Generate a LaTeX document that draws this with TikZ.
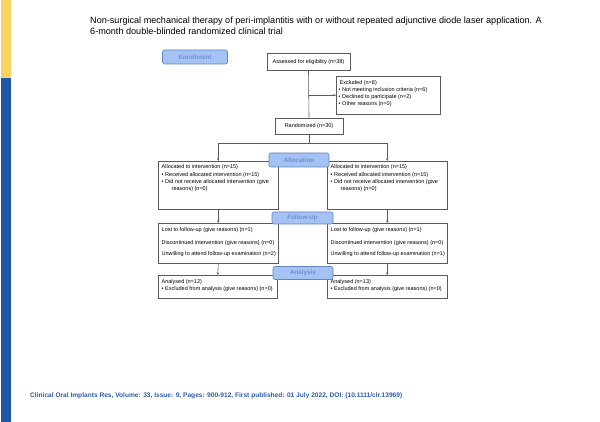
\documentclass[tikz,border=0pt]{standalone}
\usepackage{fontspec}
\setmainfont{Liberation Sans}
\usetikzlibrary{arrows.meta}
\definecolor{baryellow}{HTML}{F8D35E}
\definecolor{barblue}{HTML}{1F55A5}
\definecolor{foottext}{HTML}{2F5DAA}
\definecolor{lblfill}{HTML}{A4C2F4}
\definecolor{lbldraw}{HTML}{6683BD}
\definecolor{lbltext}{HTML}{6F8FD2}
\definecolor{boxdraw}{HTML}{5A5A5A}
\begin{document}
\begin{tikzpicture}[x=1pt,y=-1pt,
  lbl/.style={draw=lbldraw,fill=lblfill,rounded corners=2pt,line width=0.6pt,text=lbltext,
    font=\bfseries\fontsize{6.3}{7}\selectfont,inner sep=0pt},
  boxn/.style={draw=boxdraw,fill=white,line width=0.5pt,inner sep=0pt},
  txt/.style={anchor=base west,inner sep=0pt,font=\fontsize{5.5}{6.6}\selectfont},
  conn/.style={draw=boxdraw,line width=0.6pt},
  arr/.style={conn,-{Stealth[length=2.6pt,width=2.4pt]}}]
\useasboundingbox (0,0) rectangle (600,422);
\fill[white] (0,0) rectangle (600,422);
% side bar
\fill[baryellow] (1,0) rectangle (10.7,78);
\fill[barblue] (1,78) rectangle (10.7,422);
% title
\node[anchor=base west,inner sep=0pt,font=\fontsize{9.1}{11}\selectfont] (title1) at (90,23.5) {Non-surgical mechanical therapy of peri-implantitis with or without repeated adjunctive diode laser application. A};
\node[anchor=base west,inner sep=0pt,font=\fontsize{9.1}{11}\selectfont] (title2) at (90,34.5) {6-month double-blinded randomized clinical trial};
% footer
\node[anchor=base west,inner sep=0pt,text=foottext,font=\bfseries\fontsize{6.6}{7.5}\selectfont] (foot) at (30,397) {Clinical Oral Implants Res, Volume: 33, Issue: 9, Pages: 900-912, First published: 01 July 2022, DOI: (10.1111/clr.13969)};

% boxes
\node[boxn,minimum width=83pt,minimum height=17pt] (assess) at (308.5,62) {\fontsize{5.5}{6.6}\selectfont Assessed for eligibility (n=38)};
\node[boxn,minimum width=104pt,minimum height=38pt,anchor=north west] (excl) at (336,76) {};
\node[boxn,minimum width=68pt,minimum height=16pt] (rand) at (309,126) {\fontsize{5.5}{6.6}\selectfont Randomized (n=30)};
\node[boxn,minimum width=120pt,minimum height=48pt,anchor=north west] (allocL) at (158,161) {};
\node[boxn,minimum width=120pt,minimum height=48pt,anchor=north west] (allocR) at (327,161) {};
\node[boxn,minimum width=120pt,minimum height=40pt,anchor=north west] (follL) at (158,223) {};
\node[boxn,minimum width=120pt,minimum height=40pt,anchor=north west] (follR) at (327,223) {};
\node[boxn,minimum width=119pt,minimum height=23pt,anchor=north west] (anaL) at (158,275) {};
\node[boxn,minimum width=120pt,minimum height=23pt,anchor=north west] (anaR) at (327,275) {};

% connectors
\coordinate (split) at (rand.south |- 0,143);
\coordinate (sL) at (allocL.north |- split);
\coordinate (sR) at (allocR.north |- split);
\coordinate (exJ) at (assess.south |- excl.west);
\draw[conn] (assess.south) -- (rand.north);
\draw[arr] (exJ) -- (excl.west);
\draw[conn] (rand.south) -- (split);
\draw[conn] (sL) -- (sR);
\draw[arr] (sL) -- (allocL.north);
\draw[arr] (sR) -- (allocR.north);
\draw[arr] (allocL.south) -- (follL.north);
\draw[arr] (allocR.south) -- (follR.north);
\draw[arr] (follL.south) -- (anaL.north);
\draw[arr] (follR.south) -- (anaR.north);

% labels
\node[lbl,minimum width=65pt,minimum height=14pt] (enrol) at (195,57) {Enrollment};
\node[lbl,minimum width=60pt,minimum height=14pt] (alloc) at (299,160) {Allocation};
\node[lbl,minimum width=61pt,minimum height=12pt] (follow) at (302.5,218) {Follow-Up};
\node[lbl,minimum width=60pt,minimum height=13pt] (analysis) at (303,273) {Analysis};

% excluded text
\node[txt] (ex1) at (339.5,84.7) {Excluded (n=8)};
\node[txt] (ex2) at (338.5,92) {\textbullet\hspace{1.6pt}Not meeting inclusion criteria (n=6)};
\node[txt] (ex3) at (338.5,99) {\textbullet\hspace{1.6pt}Declined to participate (n=2)};
\node[txt] (ex4) at (338.5,105.7) {\textbullet\hspace{1.6pt}Other reasons (n=0)};

% allocation texts
\node[txt] (aL1) at (161.5,169) {Allocated to intervention (n=15)};
\node[txt] (aL2) at (161.5,176.5) {\textbullet\hspace{1.6pt}Received allocated intervention (n=15)};
\node[txt] (aL3) at (161.5,183.5) {\textbullet\hspace{1.6pt}Did not receive allocated intervention (give};
\node[txt] (aL4) at (171.5,190.3) {reasons) (n=0)};
\node[txt] (aR1) at (330.5,169) {Allocated to intervention (n=15)};
\node[txt] (aR2) at (330.5,176.5) {\textbullet\hspace{1.6pt}Received allocated intervention (n=15)};
\node[txt] (aR3) at (330.5,183.5) {\textbullet\hspace{1.6pt}Did not receive allocated intervention (give};
\node[txt] (aR4) at (340.5,190.3) {reasons) (n=0)};

% follow-up texts
\node[txt] (fL1) at (161.5,231.5) {Lost to follow-up (give reasons) (n=1)};
\node[txt] (fL2) at (161.5,244.3) {Discontinued intervention (give reasons) (n=0)};
\node[txt] (fL3) at (161.5,256) {Unwilling to attend follow-up examination (n=2)};
\node[txt] (fR1) at (330.5,231.5) {Lost to follow-up (give reasons) (n=1)};
\node[txt] (fR2) at (330.5,244.3) {Discontinued intervention (give reasons) (n=0)};
\node[txt] (fR3) at (330.5,256) {Unwilling to attend follow-up examination (n=1)};

% analysis texts
\node[txt] (nL1) at (161.5,283.5) {Analysed (n=12)};
\node[txt] (nL2) at (161.5,290.5) {\textbullet\hspace{1.6pt}Excluded from analysis (give reasons) (n=0)};
\node[txt] (nR1) at (330.5,283.5) {Analysed (n=13)};
\node[txt] (nR2) at (330.5,290.5) {\textbullet\hspace{1.6pt}Excluded from analysis (give reasons) (n=0)};
\end{tikzpicture}
\end{document}
